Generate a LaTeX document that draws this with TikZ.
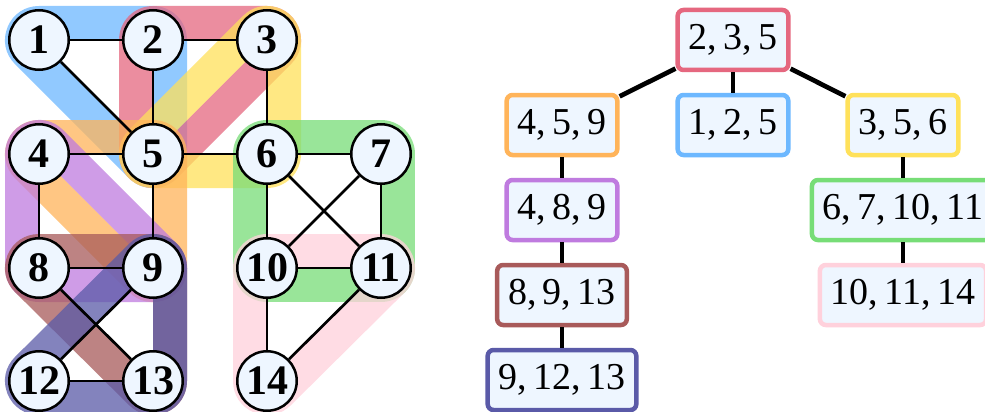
\documentclass[tikz,border=0pt]{standalone}
\usepackage{fontspec}
\setmainfont{Liberation Serif}
\definecolor{cred}{HTML}{E5677F}
\definecolor{cblue}{HTML}{6DB8FF}
\definecolor{cyellow}{HTML}{FFE15A}
\definecolor{corange}{HTML}{FFB45A}
\definecolor{cpurple}{HTML}{BF7BDF}
\definecolor{cbrown}{HTML}{A85A5A}
\definecolor{cindigo}{HTML}{5A5AA8}
\definecolor{cgreen}{HTML}{77DD77}
\definecolor{cpink}{HTML}{FFD1DC}
\definecolor{nodefill}{HTML}{EEF6FF}
\tikzset{
  band/.style={line width=68pt, line join=round, draw opacity=0.75},
  gnode/.style={circle, draw, line width=2.5pt, fill=nodefill, minimum size=59.5pt,
    inner sep=0pt, font=\bfseries\fontsize{42}{42}\selectfont},
  gedge/.style={line width=2.7pt},
  tbox/.style={draw, line width=4.5pt, rounded corners=6pt, fill=nodefill,
    minimum height=60pt, inner xsep=11pt, font=\fontsize{38}{40}\selectfont},
  tedge/.style={line width=4.7pt},
}
\newcommand\cliqueband[2]{%
  \begin{scope}[even odd rule]
    \clip (-60,-60) rectangle (1060,480) #2;
    \draw[band, draw=#1] #2;
  \end{scope}}
\begin{document}
\begin{tikzpicture}[x=1pt, y=-1pt]
\clip (0,0) rectangle (985,412);
\fill[white] (0,0) rectangle (985,412);
% node centres
\coordinate (c1) at (39,40);
\coordinate (c2) at (153,40);
\coordinate (c3) at (267,40);
\coordinate (c4) at (39,154);
\coordinate (c5) at (153,154);
\coordinate (c6) at (267,154);
\coordinate (c7) at (381,154);
\coordinate (c8) at (39,268);
\coordinate (c9) at (153,268);
\coordinate (c10) at (267,268);
\coordinate (c11) at (381,268);
\coordinate (c12) at (39,381);
\coordinate (c13) at (153,381);
\coordinate (c14) at (267,381);
% clique bands
\cliqueband{cblue}{(c1) -- (c2) -- (c5) -- cycle}
\cliqueband{cred}{(c2) -- (c3) -- (c5) -- cycle}
\cliqueband{cyellow}{(c3) -- (c6) -- (c5) -- cycle}
\cliqueband{corange}{(c4) -- (c5) -- (c9) -- cycle}
\cliqueband{cpurple}{(c4) -- (c9) -- (c8) -- cycle}
\cliqueband{cbrown}{(c8) -- (c9) -- (c13) -- cycle}
\cliqueband{cindigo}{(c9) -- (c13) -- (c12) -- cycle}
\cliqueband{cgreen}{(c6) -- (c7) -- (c11) -- (c10) -- cycle}
\cliqueband{cpink}{(c10) -- (c11) -- (c14) -- cycle}
% graph nodes
\foreach \i in {1,...,14} {\node[gnode] (v\i) at (c\i) {\i};}
% graph edges
\foreach \a/\b in {1/2,1/5,2/3,2/5,3/6,4/5,5/6,6/7,4/8,5/9,6/10,6/11,7/10,7/11,
  8/9,8/13,9/12,12/13,10/11,10/14,11/14}
  {\draw[gedge] (v\a) -- (v\b);}
% tree
\node[tbox, draw=cred] (t235) at (733,40) {2,\,3,\,5};
\node[tbox, draw=corange] (t459) at (562,125) {4,\,5,\,9};
\node[tbox, draw=cblue] (t125) at (733,125) {1,\,2,\,5};
\node[tbox, draw=cyellow] (t356) at (903,125) {3,\,5,\,6};
\node[tbox, draw=cpurple] (t489) at (562,210) {4,\,8,\,9};
\node[tbox, draw=cbrown] (t8913) at (562,295) {8,\,9,\,13};
\node[tbox, draw=cindigo] (t91213) at (562,380) {9,\,12,\,13};
\node[tbox, draw=cgreen] (t671011) at (903,210) {6,\,7,\,10,\,11};
\node[tbox, draw=cpink] (t101114) at (903,295) {10,\,11,\,14};
\draw[tedge] (t235) -- (t459);
\draw[tedge] (t235) -- (t125);
\draw[tedge] (t235) -- (t356);
\draw[tedge] (t459) -- (t489);
\draw[tedge] (t489) -- (t8913);
\draw[tedge] (t8913) -- (t91213);
\draw[tedge] (t356) -- (t671011);
\draw[tedge] (t671011) -- (t101114);
\end{tikzpicture}
\end{document}
